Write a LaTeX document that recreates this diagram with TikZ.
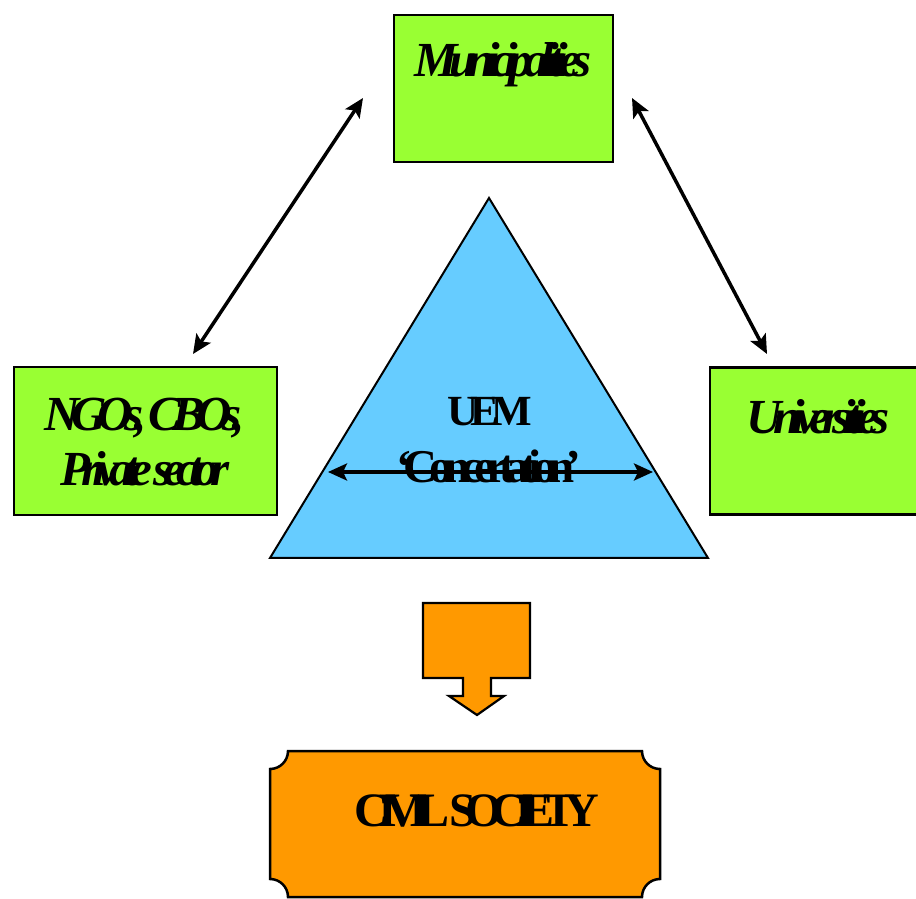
\documentclass[tikz,border=0pt]{standalone}
\usepackage{fontspec}
\setmainfont{Liberation Serif}
\newfontfamily\tightfont[LetterSpace=-18, WordSpace=0.4]{Liberation Serif}
\newfontfamily\tighterfont[LetterSpace=-23, WordSpace=0.3]{Liberation Serif}
\usetikzlibrary{arrows.meta}
\definecolor{boxgreen}{HTML}{99FF33}
\definecolor{triblue}{HTML}{66CCFF}
\definecolor{civorange}{HTML}{FF9900}
\tikzset{greenbox/.style = {draw, line width=2.5pt, fill=boxgreen, minimum width=219pt, minimum height=147pt, inner sep=0pt}}
\tikzset{boxtext/.style = {font=\tightfont\fontsize{49}{55}\selectfont\bfseries\itshape, align=center, inner sep=0pt}}
\tikzset{uptext/.style = {font=\tightfont\fontsize{43}{50}\selectfont\bfseries, align=center, inner sep=0pt}}
\tikzset{twoway/.style = {line width=3.5pt, {Stealth[length=19pt,width=17pt,inset=4pt]}-{Stealth[length=19pt,width=17pt,inset=4pt]}}}

\begin{document}
\begin{tikzpicture}[x=1pt, y=1pt]
    \useasboundingbox (0,0) rectangle (916,898);
    \begin{scope}
      \clip (0,0) rectangle (916,898);

      \node [greenbox] (muni) at (503.5, 809.5) {};
      \node [greenbox, minimum width=263pt, minimum height=148pt] (ngo) at (145.5, 457) {};
      \node [greenbox] (univ) at (819.5, 457) {};

      \node [boxtext] (munitext) at (503, 833) {Municipalities};
      \node [boxtext] (ngotext) at (145, 456) {NGOs, CBOs,\\Private sector};
      \node [boxtext] (univtext) at (818, 481) {Universities};

      \draw [line width=2pt, fill=triblue] (489, 700) -- (708, 340) -- (270, 340) -- cycle;
      \node [uptext] (uem) at (490, 486) {UEM};
      \node [uptext, font=\tightfont\fontsize{47}{50}\selectfont\bfseries] (conc) at (489, 432) {‘Concertation’};
      \coordinate (cl) at (328, 426);
      \coordinate (cr) at (653, 426);
      \draw [twoway] (cl) -- (cr);

      \coordinate (ml) at (363, 800);
      \coordinate (nt) at (193, 544);
      \coordinate (mr) at (632, 800);
      \coordinate (ut) at (767, 544);
      \draw [twoway] (ml) -- (nt);
      \draw [twoway] (mr) -- (ut);

      \draw [line width=2.2pt, fill=civorange] (423, 295) -- (530, 295) -- (530, 220) -- (491, 220) -- (491, 202)
        -- (504, 202) -- (477, 183) -- (449, 202) -- (463, 202) -- (463, 220) -- (423, 220) -- cycle;

      \draw [line width=2.5pt, fill=civorange] (288, 147) -- (642, 147) arc [start angle=180, end angle=270, radius=18]
        -- (660, 19) arc [start angle=90, end angle=180, radius=18]
        -- (288, 1) arc [start angle=0, end angle=90, radius=18]
        -- (270, 129) arc [start angle=270, end angle=360, radius=18] -- cycle;
      \node [uptext, font=\tighterfont\fontsize{48}{50}\selectfont\bfseries] (civil) at (477, 87) {CIVIL SOCIETY};
    \end{scope}
  \end{tikzpicture}
\end{document}
